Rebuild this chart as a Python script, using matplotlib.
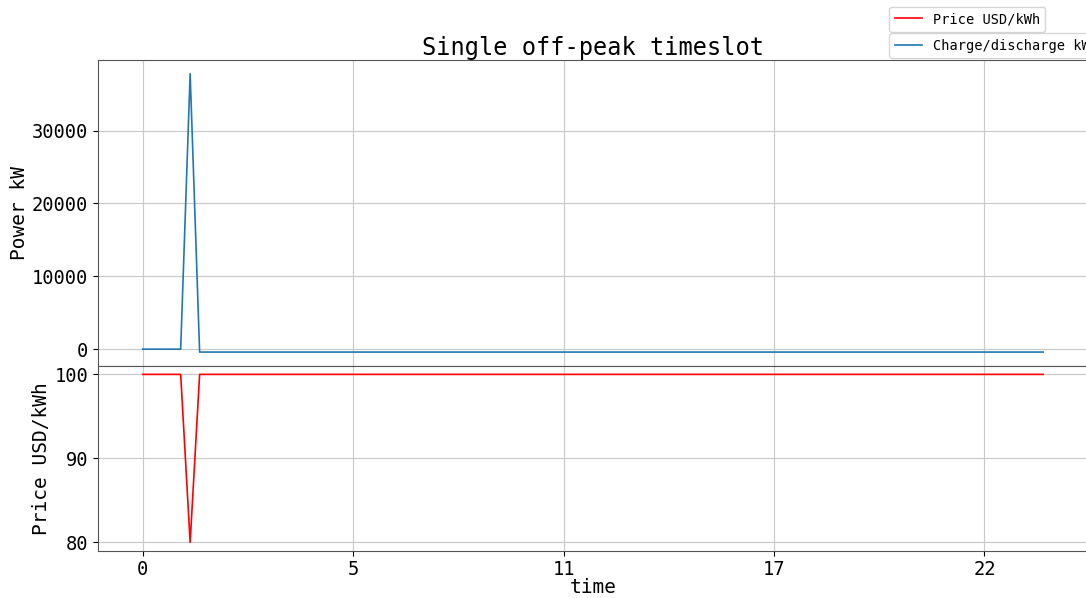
import numpy as np
import matplotlib
matplotlib.use('Agg')
import matplotlib.pyplot as plt

plt.rcParams['font.family'] = 'DejaVu Sans Mono'

# 15-minute slots over one day, in hours
hours = np.arange(96) * 0.25

# charge/discharge power (kW): idle, one big charge in the off-peak slot, then small discharge
power = [0, 0, 0, 0, 0, 37800] + [-400] * 90
# price (USD/kWh): flat except one off-peak slot
price = [100, 100, 100, 100, 100, 80] + [100] * 90

tick_pos = [0, 5.55, 11.1, 16.65, 22.2]
tick_labels = ['0', '5', '11', '17', '22']

fig = plt.figure(figsize=(10.86, 5.98), dpi=100)
ax1 = fig.add_axes([0.090, 0.388, 0.912, 0.512])
ax2 = fig.add_axes([0.090, 0.079, 0.912, 0.309], sharex=ax1)

ax1.plot(hours, power, color='tab:blue', linewidth=1.2, label='Charge/discharge kW')
ax2.plot(hours, price, color='red', linewidth=1.2, label='Price USD/kWh')

for ax in (ax1, ax2):
    ax.grid(True, color='#c8c8c8', linewidth=0.8)
    ax.tick_params(labelsize=13.5)
    for s in ax.spines.values():
        s.set_color('#555555')

ax1.set_xticks(tick_pos)
ax2.set_xticklabels(tick_labels)
ax1.tick_params(axis='x', labelbottom=False, length=0)
ax1.set_yticks([0, 10000, 20000, 30000])
ax2.set_yticks([80, 90, 100])

ax1.set_ylabel('Power kW', fontsize=14, labelpad=2)
ax2.set_ylabel('Price USD/kWh', fontsize=14, labelpad=2)
ax2.set_xlabel('time', fontsize=14, labelpad=-1)
ax1.set_title('Single off-peak timeslot', fontsize=17, pad=2)

leg2 = ax2.legend(loc='lower left', bbox_to_anchor=(0.799, 2.81), fontsize=9.8,
                  borderaxespad=0, fancybox=True, handlelength=2)
leg1 = ax1.legend(loc='lower left', bbox_to_anchor=(0.799, 1.006), fontsize=9.8,
                  borderaxespad=0, fancybox=True, handlelength=2)

fig.savefig('out.png', dpi=100)
